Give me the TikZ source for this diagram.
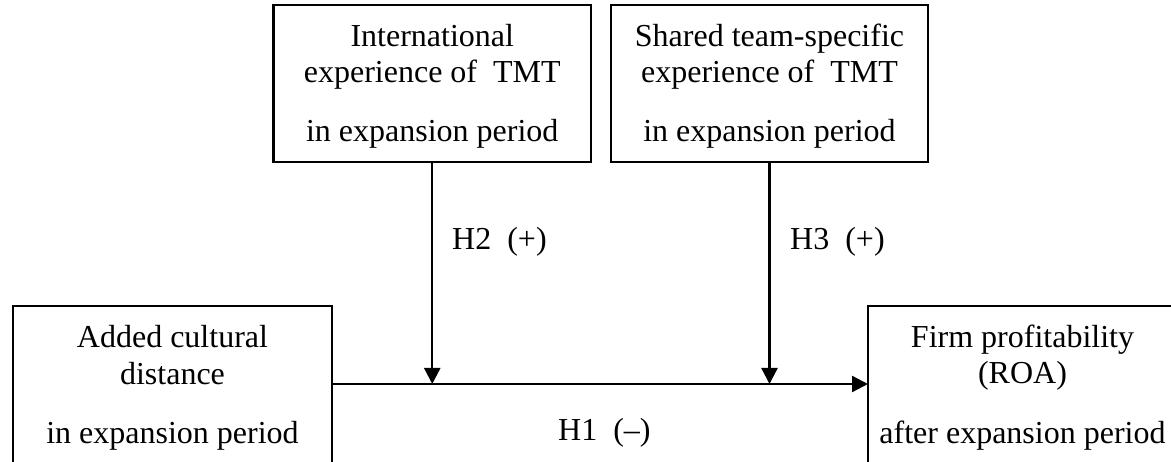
\documentclass[tikz,border=0pt]{standalone}
\usepackage{fontspec}
\setmainfont{Liberation Serif}
\usetikzlibrary{arrows.meta}
\begin{document}
\begin{tikzpicture}[x=1pt,y=-1pt,
  box/.style={draw=black, line width=2.3pt, inner sep=0pt, outer sep=0pt, fill=none},
  txt/.style={anchor=base, inner sep=0pt, font=\fontsize{32}{38}\selectfont},
  lbl/.style={anchor=base west, inner sep=0pt, font=\fontsize{32}{38}\selectfont},
  conn/.style={line width=2.3pt, -{Triangle[length=16pt,width=16pt]}}]
\useasboundingbox (0,0) rectangle (1171,462);
\clip (0,0) rectangle (1171,462);
% boxes
\node[box, minimum width=317.5pt, minimum height=157pt] (tl) at (432.25,83.5) {};
\node[box, minimum width=317pt, minimum height=157pt] (tr) at (769.5,83.5) {};
\node[box, minimum width=319pt, minimum height=174pt] (bl) at (172.5,393) {};
\node[box, minimum width=309pt, minimum height=174pt] (br) at (1022.5,393) {};
% texts
\node[txt] (tl1) at (432.25,47) {International};
\node[txt] (tl2) at (432.25,83) {experience of\ \ TMT};
\node[txt] (tl3) at (432.25,142) {in expansion period};
\node[txt] (tr1) at (769.5,47) {Shared team-specific};
\node[txt] (tr2) at (769.5,83) {experience of\ \ TMT};
\node[txt] (tr3) at (769.5,142) {in expansion period};
\node[txt] (bl1) at (172.5,348) {Added cultural};
\node[txt] (bl2) at (172.5,385) {distance};
\node[txt] (bl3) at (172.5,444) {in expansion period};
\node[txt] (br1) at (1022.5,348) {Firm profitability};
\node[txt] (br2) at (1022.5,384) {(ROA)};
\node[txt] (br3) at (1022.5,443) {after expansion period};
% connectors
\coordinate (m) at (0,384);
\draw[conn] (bl.east |- m) -- (br.west |- m);
\draw[conn] (tl.south) -- (tl.south |- m);
\draw[conn] (tr.south) -- (tr.south |- m);
% labels
\node[lbl] (h2) at (452,250) {H2\ \ (+)};
\node[lbl] (h3) at (790,250) {H3\ \ (+)};
\node[lbl] (h1) at (558,440) {H1\ \ (–)};
\end{tikzpicture}
\end{document}
